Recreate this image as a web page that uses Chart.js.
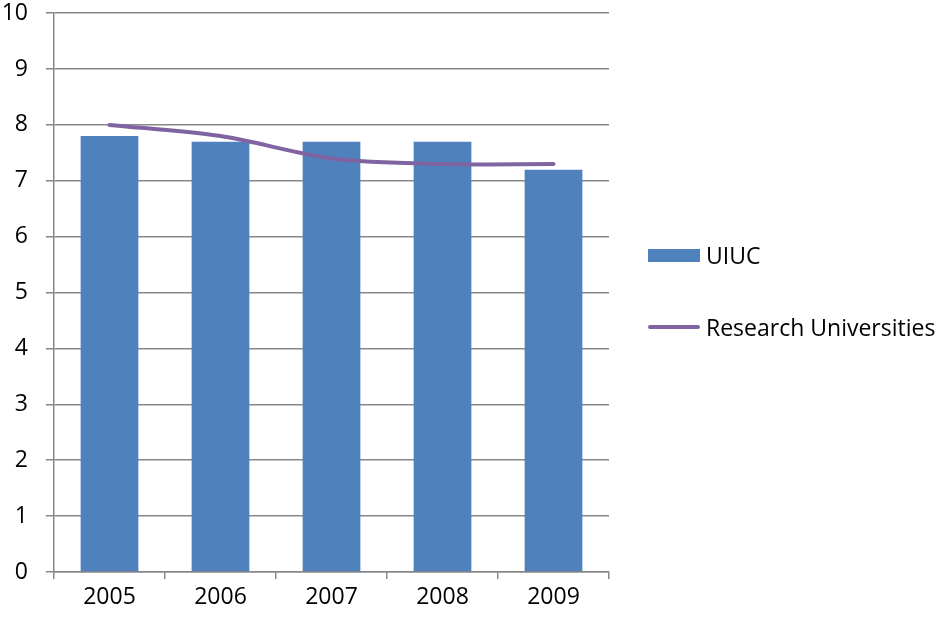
<!DOCTYPE html>
<html>
<head>
<meta charset="utf-8">
<script src="https://cdn.jsdelivr.net/npm/chart.js@4"></script>
<style>
  body { margin: 0; background: #fff; font-family: "Open Sans", "Liberation Sans", sans-serif; }
  #wrap { position: relative; width: 936px; height: 620px; overflow: hidden; }
  #chart { position: absolute; left: 0; top: -6px; }
  .legend { position: absolute; left: 648px; font-size: 23px; color: #000; display: flex; align-items: center; white-space: nowrap; }
  .box { width: 52px; height: 13px; background: #4f81bd; margin-right: 6px; }
  .line { width: 52px; height: 4px; border-radius: 2px; background: #8064a2; margin-right: 6px; }
</style>
</head>
<body>
<div id="wrap">
  <canvas id="chart" width="936" height="626"></canvas>
  <div class="legend" style="top:239px"><div class="box"></div>UIUC</div>
  <div class="legend" style="top:311px"><div class="line"></div>Research Universities</div>
</div>
<script>
// Data
const years = ["2005", "2006", "2007", "2008", "2009"];
const uiucValues = [7.8, 7.7, 7.7, 7.7, 7.2];
const researchValues = [8.0, 7.8, 7.4, 7.3, 7.3];

const gridColor = "#878787";
const fontFamily = "'Open Sans', 'Liberation Sans', sans-serif";

const ctx = document.getElementById("chart").getContext("2d");

new Chart(ctx, {
  data: {
    labels: years,
    datasets: [
      {
        type: "line",
        label: "Research Universities",
        data: researchValues,
        borderColor: "#8064a2",
        borderWidth: 4,
        borderCapStyle: "round",
        pointRadius: 0,
        tension: 0.3,
        order: 0
      },
      {
        type: "bar",
        label: "UIUC",
        data: uiucValues,
        backgroundColor: "#4f81bd",
        barPercentage: 0.52,
        categoryPercentage: 1,
        order: 1
      }
    ]
  },
  options: {
    responsive: false,
    animation: false,
    layout: { autoPadding: false, padding: { top: 12, right: 327, left: 0, bottom: 0 } },
    plugins: { legend: { display: false }, tooltip: { enabled: false } },
    scales: {
      x: {
        offset: true,
        grid: { offset: true, drawOnChartArea: false, tickLength: 7, color: gridColor, lineWidth: 1.5 },
        border: { color: gridColor, width: 1.5 },
        ticks: { color: "#000", font: { family: fontFamily, size: 23 }, padding: 5 },
        afterFit: scale => { scale.height = 48; }
      },
      y: {
        min: 0,
        max: 10,
        grid: { tickLength: 8, color: gridColor, lineWidth: 1.5 },
        border: { color: gridColor, width: 1.5 },
        // small lineHeight keeps the top label from pushing the plot down
        ticks: { stepSize: 1, color: "#000", font: { family: fontFamily, size: 23, lineHeight: 0.1 }, padding: 18 },
        afterFit: scale => { scale.width = 54; }
      }
    }
  }
});
</script>
</body>
</html>
